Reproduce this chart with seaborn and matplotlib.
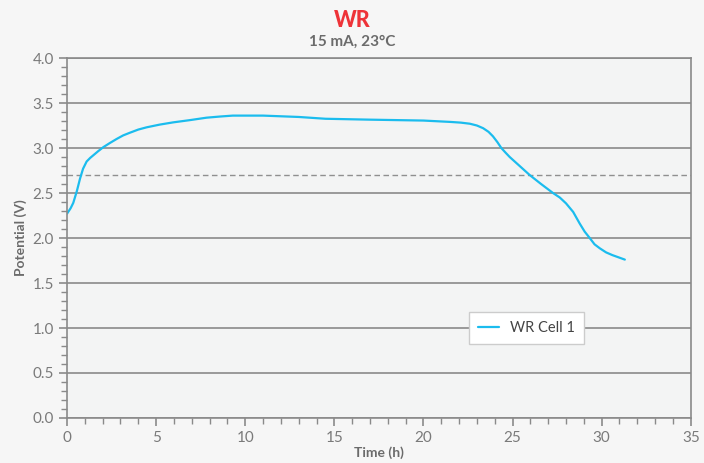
import seaborn as sns
import matplotlib.pyplot as plt
from matplotlib.ticker import MultipleLocator
import pandas as pd

# datos leidos a ojo de la curva de descarga
tiempo_h = [0.0, 0.2, 0.35, 0.55, 0.73, 0.9, 1.1, 1.3, 1.48, 1.75, 2.04, 2.4, 2.78, 3.15, 3.53,
            4.0, 4.47, 5.2, 5.96, 6.9, 7.83, 8.6, 9.3, 11.0, 13.0, 14.5, 17.0, 20.0, 21.5,
            22.1, 22.6, 23.0, 23.35, 23.65, 23.9, 24.15, 24.37, 24.6, 24.84, 25.4, 25.96,
            26.6, 27.27, 27.65, 28.0, 28.4, 28.77, 29.05, 29.33, 29.6, 29.9, 30.25, 30.6, 31.3]
potencial_v = [2.27, 2.33, 2.39, 2.52, 2.66, 2.77, 2.85, 2.89, 2.92, 2.965, 3.01, 3.055, 3.10,
               3.14, 3.17, 3.205, 3.23, 3.26, 3.285, 3.31, 3.337, 3.35, 3.36, 3.36, 3.345,
               3.325, 3.315, 3.305, 3.29, 3.282, 3.27, 3.25, 3.22, 3.18, 3.13, 3.065, 3.0,
               2.95, 2.90, 2.80, 2.70, 2.60, 2.50, 2.45, 2.385, 2.29, 2.16, 2.07, 2.0, 1.93,
               1.885, 1.84, 1.81, 1.76]
corte_v = 2.70

df = pd.DataFrame({"Time (h)": tiempo_h, "Potential (V)": potencial_v, "serie": "WR Cell 1"})

sns.set_theme(style="white")
plt.rcParams['font.family'] = ['Lato', 'DejaVu Sans']

gris = "#8a8a8a"
texto = "#6b6b6b"

fig = plt.figure(figsize=(7.04, 4.63), dpi=100, facecolor="#f6f6f6")
ax = fig.add_axes([0.0952, 0.0972, 0.886, 0.7775])
ax.set_facecolor("#f3f4f4")

sns.lineplot(data=df, x="Time (h)", y="Potential (V)", hue="serie",
             palette=["#1bbcee"], linewidth=1.6, ax=ax, sort=False)
ax.axhline(corte_v, color="#8f8f8f", linestyle=(0, (4, 2.5)), linewidth=1.0, zorder=1)

ax.set_xlim(0, 35)
ax.set_ylim(0, 4.0)
ax.xaxis.set_major_locator(MultipleLocator(5))
ax.xaxis.set_minor_locator(MultipleLocator(1))
ax.yaxis.set_major_locator(MultipleLocator(0.5))
ax.yaxis.set_minor_locator(MultipleLocator(0.1))
ax.yaxis.set_major_formatter(plt.FormatStrFormatter("%.1f"))
ax.grid(axis="y", which="major", color=gris, linewidth=1.2)
ax.set_axisbelow(True)

for s in ax.spines.values():
    s.set_color(gris)
    s.set_linewidth(1.2)

ax.tick_params(which="both", direction="out", colors=gris, labelcolor="#7a7a7a", labelsize=11)
ax.tick_params(which="major", length=6, width=1.2)
ax.tick_params(which="minor", length=4, width=1.0)
ax.tick_params(axis="x", which="both", bottom=True)
ax.tick_params(axis="y", which="both", left=True)

ax.set_xlabel("Time (h)", fontsize=10, weight="bold", color=texto, labelpad=1)
ax.set_ylabel("Potential (V)", fontsize=10, weight="bold", color=texto, labelpad=4)

fig.text(0.5, 0.955, "WR", ha="center", va="center", fontsize=15.5, weight="black", color="#ee3338")
fig.text(0.5, 0.91, "15 mA, 23°C", ha="center", va="center", fontsize=11, weight="bold", color=texto)

leg = ax.legend(loc="center", bbox_to_anchor=(0.737, 0.25), frameon=True, fancybox=False,
                fontsize=10.5, handlelength=1.4, borderpad=0.6)
leg.get_frame().set_edgecolor("#cccccc")
leg.get_frame().set_facecolor("white")
leg.get_frame().set_alpha(1)
for t in leg.get_texts():
    t.set_color("#444444")

plt.savefig("out.png", dpi=100, facecolor=fig.get_facecolor())
